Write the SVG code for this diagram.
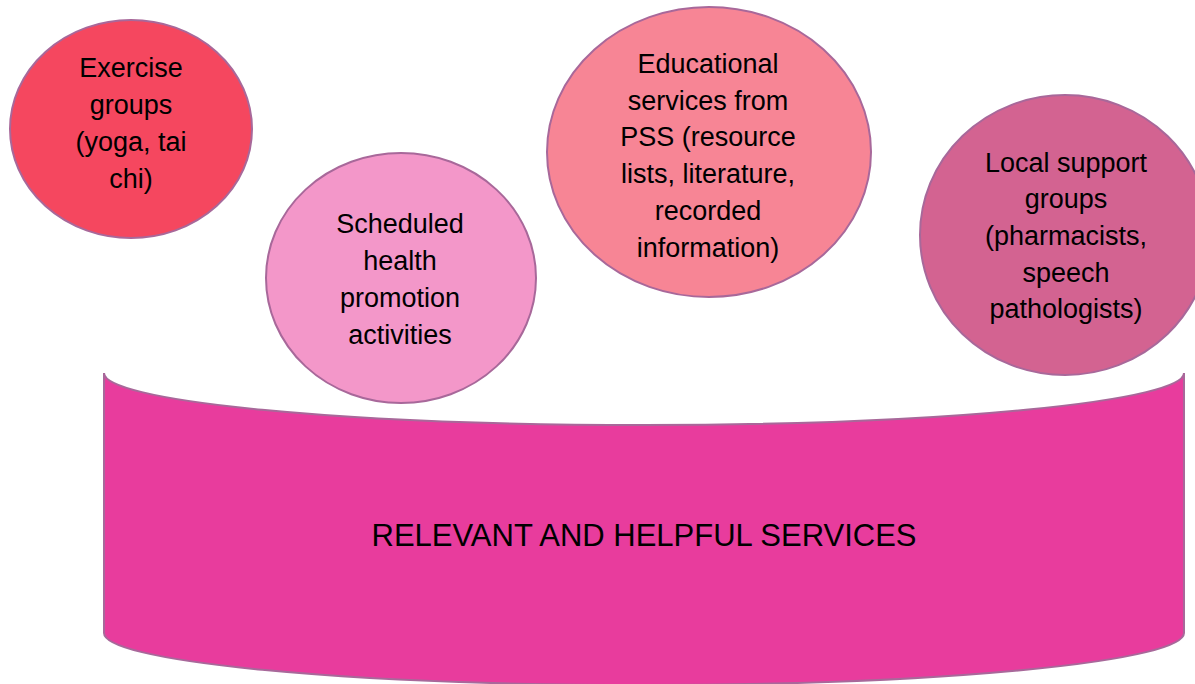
<svg xmlns="http://www.w3.org/2000/svg" width="1195" height="684" viewBox="0 0 1195 684">
<style>
.shape{stroke:#A8689A;stroke-width:2}
.t{font-family:"Liberation Sans","Open Sans",sans-serif;font-size:27px;fill:#000;text-anchor:middle}
.big{font-family:"Liberation Sans","Open Sans",sans-serif;font-size:31px;fill:#000;text-anchor:middle}
</style>
<rect width="1195" height="684" fill="#ffffff"/>
<g id="base">
<path class="shape" fill="#E83C9D" d="M104,373 A540,52 0 0 0 1184,373 L1184,633 A540,52 0 0 1 104,633 Z"/>
<text class="big" x="644" y="546">RELEVANT AND HELPFUL SERVICES</text>
</g>
<g id="exercise">
<ellipse class="shape" fill="#F5475F" cx="131" cy="129" rx="121" ry="109"/>
<text class="t" x="131" y="77">Exercise</text>
<text class="t" x="131" y="114">groups</text>
<text class="t" x="131" y="151">(yoga, tai</text>
<text class="t" x="131" y="188">chi)</text>
</g>
<g id="scheduled">
<ellipse class="shape" fill="#F397C9" cx="401" cy="278" rx="135" ry="125"/>
<text class="t" x="400" y="233">Scheduled</text>
<text class="t" x="400" y="270">health</text>
<text class="t" x="400" y="307">promotion</text>
<text class="t" x="400" y="344">activities</text>
</g>
<g id="educational">
<ellipse class="shape" fill="#F78595" cx="709" cy="152" rx="162" ry="145"/>
<text class="t" x="708" y="73">Educational</text>
<text class="t" x="708" y="110">services from</text>
<text class="t" x="708" y="146">PSS (resource</text>
<text class="t" x="708" y="183">lists, literature,</text>
<text class="t" x="708" y="220">recorded</text>
<text class="t" x="708" y="257">information)</text>
</g>
<g id="local">
<ellipse class="shape" fill="#D36391" cx="1065" cy="235" rx="145" ry="140"/>
<text class="t" x="1066" y="172">Local support</text>
<text class="t" x="1066" y="208">groups</text>
<text class="t" x="1066" y="245">(pharmacists,</text>
<text class="t" x="1066" y="282">speech</text>
<text class="t" x="1066" y="318">pathologists)</text>
</g>
<g id="connectors"></g>
</svg>
